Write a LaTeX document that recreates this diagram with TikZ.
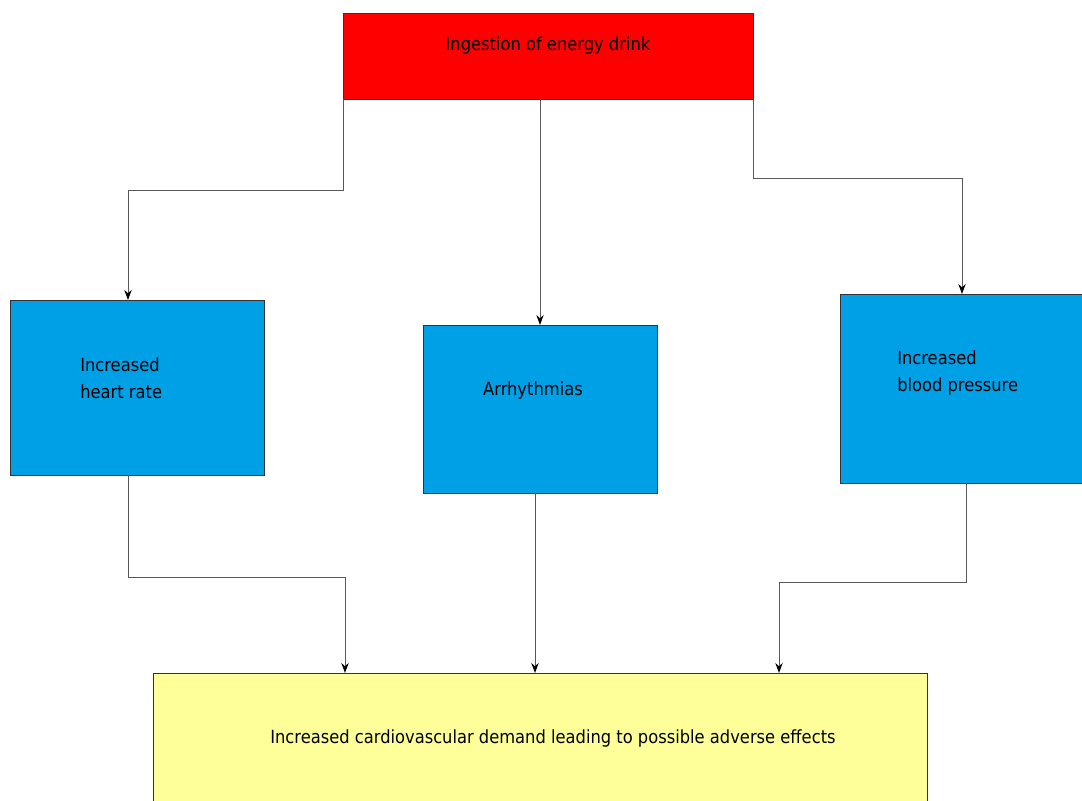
\documentclass[tikz,border=0pt]{standalone}
\usepackage{fontspec}
\setmainfont{DejaVu Sans Condensed}
\usetikzlibrary{arrows.meta}
\definecolor{drinkred}{RGB}{255,0,0}
\definecolor{effectblue}{RGB}{0,160,230}
\definecolor{demandyellow}{RGB}{255,255,153}
\tikzset{
  box/.style={draw=black!80, line width=0.7pt, inner sep=0pt, outer sep=0pt, anchor=north west},
  txt/.style={font=\fontsize{13.6}{20.25}\selectfont, text=black, inner sep=0pt},
  conn/.style={draw=black!65, line width=0.75pt, -{Stealth[length=7.5pt,width=5.5pt,color=black]}}
}
\begin{document}
\begin{tikzpicture}[x=0.75pt,y=-0.75pt]
    \useasboundingbox (0,0) rectangle (1082,800);
    \clip (0,0) rectangle (1082,800);

    % boxes
    \node[box, fill=drinkred, minimum width=307.5pt, minimum height=64.5pt] (ingest) at (343,13) {};
    \node[box, fill=effectblue, minimum width=190.5pt, minimum height=131.25pt] (hr) at (10,300) {};
    \node[box, fill=effectblue, minimum width=175.5pt, minimum height=126pt] (arr) at (423,325) {};
    \node[box, fill=effectblue, minimum width=181.5pt, minimum height=141.75pt] (bp) at (840,294) {};
    \node[box, fill=demandyellow, minimum width=580.5pt, minimum height=97.5pt] (demand) at (153,673) {};

    % texts
    \node[txt] (ingesttxt) at (548,45) {Ingestion of energy drink};
    \node[txt, anchor=west, align=left] (hrtxt) at (80,378.5) {Increased\\heart rate};
    \node[txt] (arrtxt) at (533,390) {Arrhythmias};
    \node[txt, anchor=west, align=left] (bptxt) at (897,372.5) {Increased\\blood pressure};
    \node[txt] (demandtxt) at (553,738) {Increased cardiovascular demand leading to possible adverse effects};

    % bends
    \coordinate (tl1) at (343,190);
    \coordinate (tl2) at (128,190);
    \coordinate (tr1) at (753,178);
    \coordinate (tr2) at (962,178);
    \coordinate (bl1) at (128,577);
    \coordinate (bl2) at (345,577);
    \coordinate (bm) at (535,493);
    \coordinate (br1) at (966,582);
    \coordinate (br2) at (779,582);

    % connectors
    \draw[conn] (ingest.south west) -- (tl1) -- (tl2) -- (tl2 |- hr.north);
    \draw[conn] (ingest.south -| arr.north) -- (arr.north);
    \draw[conn] (ingest.south east) -- (tr1) -- (tr2) -- (tr2 |- bp.north);

    \draw[conn] (hr.south -| bl1) -- (bl1) -- (bl2) -- (bl2 |- demand.north);
    \draw[conn] (bm) -- (bm |- demand.north);
    \draw[conn] (bp.south -| br1) -- (br1) -- (br2) -- (br2 |- demand.north);
\end{tikzpicture}
\end{document}
